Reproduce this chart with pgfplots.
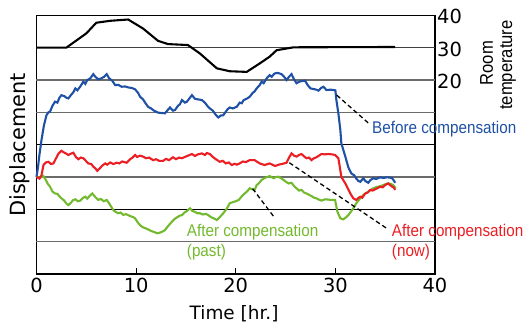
\documentclass[border=0pt]{standalone}
\usepackage{pgfplots}
\pgfplotsset{compat=1.18}
\usepackage{fontspec}
\setmainfont{DejaVu Sans}
\newfontfamily\cond[FakeStretch=0.9]{Liberation Sans}
\definecolor{cblue}{RGB}{30,80,165}
\definecolor{cred}{RGB}{235,30,35}
\definecolor{cgreen}{RGB}{115,185,45}
\begin{document}
\begin{tikzpicture}
\begin{axis}[
 scale only axis, width=398.5bp, height=258.7bp,
 xmin=0, xmax=40, ymin=0, ymax=8,
 axis line style={line width=1.2pt},
 xtick={0,10,20,30,40}, xtick pos=left, tick align=inside,
 major tick length=6bp,
 x tick style={line width=1pt,black},
 ytick={6,7,8}, yticklabels={20,30,40}, ytick pos=right, yticklabel pos=right,
 y tick style={draw=none},
 tick label style={font=\fontsize{19.5}{21}\selectfont},
 yticklabel style={inner sep=2bp, yshift=-1.5bp},
 xticklabel style={inner sep=4bp},
 /pgf/number format/assume math mode=true,
 clip=false,
]
% horizontal rules
\draw[black!58, line width=1.6pt] (axis cs:0,1) -- (axis cs:40,1);
\draw[black, line width=1pt] (axis cs:0,2) -- (axis cs:40,2);
\draw[black!58, line width=1.6pt] (axis cs:0,3) -- (axis cs:40,3);
\draw[black, line width=1pt] (axis cs:0,4) -- (axis cs:40,4);
\draw[black!58, line width=1.6pt] (axis cs:0,5) -- (axis cs:40,5);
\draw[black!58, line width=1.6pt] (axis cs:0,6) -- (axis cs:40,6);
\draw[black!75, line width=1.4pt] (axis cs:0,7) -- (axis cs:40,7);

% room temperature
\addplot[black, line width=2.1pt] table[x=x, y expr=\thisrow{T}/10+4] {
x T
0 30
3 30
5 34.4
6 37.7
7.4 38.3
9.2 38.7
10.7 35.9
12.2 32.1
13.2 31.1
15.2 30.8
16.4 28.2
18.1 23.6
19.4 22.7
21.1 22.5
22.4 25.1
23.4 27.2
24.1 29.2
25.8 30.1
36 30.2
};

% before compensation
\addplot[cblue, line width=2.1pt] coordinates {
(0,3.0) (0.15,3.3) (0.3,3.7) (0.5,4.14) (0.75,4.6) (1.0,4.91) (1.2,5.0) (1.36,5.02)
(1.6,5.2) (1.86,5.33) (2.1,5.3) (2.3,5.45) (2.5,5.53) (2.8,5.5) (3.0,5.45) (3.2,5.43)
(3.5,5.55) (3.7,5.62) (3.9,5.74) (4.1,5.68) (4.4,5.8) (4.7,5.95) (4.9,5.88) (5.1,6.0)
(5.4,6.05) (5.7,6.18) (5.9,6.1) (6.2,6.02) (6.5,6.05) (6.8,6.1) (7.05,6.18) (7.3,6.05)
(7.6,5.98) (7.9,5.84) (8.2,5.85) (8.55,5.79) (8.9,5.8) (9.2,5.77) (9.6,5.75) (9.9,5.71)
(10.2,5.6) (10.4,5.48) (10.7,5.4) (10.9,5.3) (11.2,5.17) (11.5,5.12) (11.8,5.05) (12.2,4.99)
(12.5,4.98) (12.9,4.97) (13.2,5.08) (13.4,5.15) (13.7,5.05) (13.9,5.07) (14.2,5.2) (14.4,5.25)
(14.6,5.38) (14.9,5.3) (15.1,5.33) (15.4,5.45) (15.6,5.53) (15.9,5.42) (16.2,5.4) (16.6,5.38)
(16.9,5.3) (17.2,5.18) (17.4,5.12) (17.7,5.05) (18.0,4.92) (18.25,4.84) (18.5,4.9) (18.75,4.91)
(19.0,5.02) (19.2,5.1) (19.4,5.15) (19.7,5.12) (20.1,5.17) (20.4,5.3) (20.6,5.28) (20.8,5.38)
(21.1,5.42) (21.4,5.48) (21.7,5.6) (21.9,5.65) (22.1,5.74) (22.4,5.84) (22.6,5.95) (22.8,5.9)
(23.1,6.05) (23.4,6.15) (23.6,6.1) (23.9,6.2) (24.2,6.22) (24.6,6.18) (24.85,6.1) (25.1,6.0)
(25.35,6.1) (25.6,6.18) (25.85,6.02) (26.1,5.9) (26.4,5.95) (26.7,5.97) (26.96,5.98) (27.2,5.85)
(27.5,5.74) (27.8,5.72) (28.1,5.7) (28.3,5.67) (28.55,5.75) (28.8,5.79) (29.1,5.69) (29.5,5.7)
(29.8,5.69) (30.0,5.68) (30.1,5.38) (30.3,4.97) (30.5,4.45) (30.6,4.04) (31.0,3.63) (31.3,3.3)
(31.6,3.11) (31.9,3.05) (32.1,2.95) (32.3,2.88) (32.5,2.85) (32.8,2.96) (33.0,2.88) (33.3,2.82)
(33.5,2.9) (33.8,2.96) (34.1,2.94) (34.5,2.99) (34.8,2.97) (35.2,2.99) (35.5,2.98) (35.7,2.96)
(35.85,2.9) (36.0,2.82)
};

% after compensation (past)
\addplot[cgreen, line width=2.1pt] coordinates {
(0,3.0) (0.35,2.98) (0.7,3.03) (0.95,2.9) (1.15,2.78) (1.36,2.7) (1.6,2.55) (1.86,2.49)
(2.1,2.48) (2.3,2.4) (2.5,2.34) (2.75,2.28) (3.0,2.18) (3.2,2.13) (3.45,2.2) (3.65,2.28)
(3.9,2.31) (4.15,2.25) (4.4,2.27) (4.65,2.35) (4.9,2.39) (5.1,2.33) (5.35,2.42) (5.6,2.49)
(5.9,2.38) (6.2,2.29) (6.45,2.32) (6.75,2.25) (7.05,2.29) (7.3,2.18) (7.5,2.08) (7.7,1.98)
(7.95,1.92) (8.2,1.88) (8.45,1.9) (8.7,1.83) (9.0,1.85) (9.2,1.82) (9.5,1.78) (9.7,1.76)
(9.9,1.72) (10.15,1.6) (10.4,1.51) (10.65,1.45) (10.9,1.42) (11.2,1.38) (11.5,1.33) (11.8,1.3)
(12.1,1.26) (12.4,1.28) (12.7,1.32) (12.9,1.36) (13.2,1.48) (13.4,1.55) (13.6,1.62) (13.85,1.7)
(14.1,1.75) (14.35,1.8) (14.6,1.82) (14.85,1.9) (15.1,1.95) (15.4,2.03) (15.65,1.95) (15.9,1.92)
(16.15,1.88) (16.4,1.88) (16.7,1.84) (17.0,1.86) (17.25,1.82) (17.5,1.76) (17.8,1.72) (18.1,1.67)
(18.4,1.76) (18.75,1.88) (19.1,2.02) (19.4,2.19) (19.7,2.22) (20.0,2.25) (20.3,2.29) (20.6,2.4)
(20.9,2.49) (21.15,2.56) (21.4,2.65) (21.65,2.62) (21.9,2.6) (22.1,2.75) (22.3,2.8) (22.6,2.91)
(22.85,2.96) (23.1,2.99) (23.4,3.03) (23.8,2.96) (24.05,3.0) (24.3,3.01) (24.55,2.96) (24.8,2.91)
(25.05,2.85) (25.3,2.8) (25.6,2.82) (25.85,2.72) (26.1,2.65) (26.35,2.58) (26.6,2.6) (26.85,2.52)
(27.1,2.49) (27.35,2.45) (27.6,2.41) (27.85,2.36) (28.1,2.34) (28.35,2.3) (28.6,2.27) (28.97,2.31)
(29.3,2.3) (29.6,2.29) (29.97,2.29) (30.2,1.93) (30.5,1.72) (30.8,1.69) (31.05,1.75) (31.3,1.82)
(31.55,1.92) (31.8,2.03) (32.1,2.19) (32.5,2.34) (32.8,2.44) (33.05,2.5) (33.3,2.54) (33.55,2.6)
(33.8,2.65) (34.05,2.68) (34.3,2.7) (34.55,2.72) (34.8,2.75) (35.05,2.78) (35.3,2.8) (35.55,2.79)
(35.8,2.75) (36.05,2.65)
};

% after compensation (now)
\addplot[cred, line width=2.1pt] coordinates {
(0,3.0) (0.3,2.95) (0.5,3.05) (0.7,3.37) (0.95,3.45) (1.2,3.47) (1.45,3.4) (1.7,3.42)
(2.0,3.6) (2.2,3.72) (2.5,3.81) (2.8,3.75) (3.0,3.72) (3.2,3.68) (3.45,3.72) (3.7,3.75)
(3.95,3.62) (4.2,3.55) (4.45,3.6) (4.7,3.58) (4.95,3.5) (5.2,3.42) (5.5,3.4) (5.7,3.32)
(5.9,3.27) (6.1,3.19) (6.3,3.25) (6.6,3.35) (6.9,3.42) (7.1,3.38) (7.4,3.45) (7.7,3.4)
(8.05,3.44) (8.3,3.42) (8.6,3.48) (9.05,3.44) (9.4,3.55) (9.65,3.6) (9.9,3.68) (10.1,3.62)
(10.4,3.66) (10.7,3.63) (11.0,3.58) (11.3,3.6) (11.7,3.52) (12.0,3.55) (12.3,3.5) (12.7,3.5)
(13.0,3.56) (13.3,3.52) (13.7,3.61) (14.0,3.55) (14.3,3.6) (14.6,3.58) (14.9,3.62) (15.2,3.66)
(15.6,3.71) (15.9,3.65) (16.2,3.7) (16.6,3.73) (16.9,3.68) (17.1,3.74) (17.4,3.71) (17.7,3.62)
(18.0,3.55) (18.4,3.47) (18.7,3.5) (19.0,3.42) (19.3,3.45) (19.6,3.37) (19.9,3.41) (20.1,3.38)
(20.4,3.42) (20.7,3.48) (21.0,3.46) (21.4,3.52) (21.9,3.52) (22.4,3.42) (22.9,3.37) (23.4,3.42)
(23.95,3.34) (24.3,3.38) (24.6,3.4) (25.1,3.44) (25.35,3.6) (25.6,3.73) (25.85,3.66) (26.1,3.63)
(26.35,3.68) (26.6,3.71) (26.85,3.64) (27.1,3.58) (27.35,3.6) (27.6,3.52) (27.85,3.58) (28.1,3.61)
(28.35,3.66) (28.6,3.71) (28.95,3.7) (29.3,3.71) (29.65,3.7) (29.97,3.68) (30.3,3.58) (30.45,3.3)
(30.6,3.0) (31.0,2.8) (31.5,2.49) (31.8,2.34) (32.1,2.29) (32.3,2.35) (32.5,2.39) (32.7,2.36)
(33.0,2.49) (33.25,2.52) (33.5,2.6) (33.75,2.58) (34.0,2.62) (34.25,2.66) (34.5,2.7) (34.75,2.68)
(35.0,2.75) (35.3,2.8) (35.5,2.75) (35.7,2.7) (35.85,2.68) (36.0,2.6)
};

% leader lines
\addplot[black, line width=1.3pt, dash pattern=on 4.5pt off 3pt] coordinates {(30.14,5.53) (33.38,4.65)};
\addplot[black, line width=1.3pt, dash pattern=on 4.5pt off 3pt] coordinates {(25.38,3.44) (35.16,1.41)};
\addplot[black, line width=1.3pt, dash pattern=on 4.5pt off 3pt] coordinates {(21.69,2.64) (23.95,1.72)};

% labels
\node[anchor=base west, inner sep=0, text=cblue, font=\cond\fontsize{17}{20}\selectfont] at (axis cs:33.68,4.33) {Before compensation};
\node[anchor=base west, inner sep=0, text=cred, font=\cond\fontsize{17}{20}\selectfont] at (axis cs:35.66,1.175) {After compensation};
\node[anchor=base west, inner sep=0, text=cred, font=\cond\fontsize{17}{20}\selectfont] at (axis cs:35.66,0.54) {(now)};
\node[anchor=base west, inner sep=0, text=cgreen, font=\cond\fontsize{17}{20}\selectfont] at (axis cs:15.08,1.175) {After compensation};
\node[anchor=base west, inner sep=0, text=cgreen, font=\cond\fontsize{17}{20}\selectfont] at (axis cs:15.08,0.54) {(past)};

\node[rotate=90, anchor=base, inner sep=0, font=\fontsize{21}{24}\selectfont] at (axis cs:-1.154,3.99) {Displacement};
\node[anchor=base, inner sep=0, font=\fontsize{18.5}{22}\selectfont] at (axis cs:19.83,-1.422) {Time [hr.]};
\node[rotate=90, anchor=base, inner sep=0, font=\cond\fontsize{18.5}{20}\selectfont] at (axis cs:45.82,6.52) {Room};
\node[rotate=90, anchor=base, inner sep=0, font=\cond\fontsize{18.5}{20}\selectfont] at (axis cs:47.73,6.46) {temperature};
\end{axis}
\pgfresetboundingbox
\path[use as bounding box] ([shift={(-36.5bp,-53bp)}]current axis.south west) rectangle ([shift={(92bp,15.3bp)}]current axis.north east);
\end{tikzpicture}
\end{document}
